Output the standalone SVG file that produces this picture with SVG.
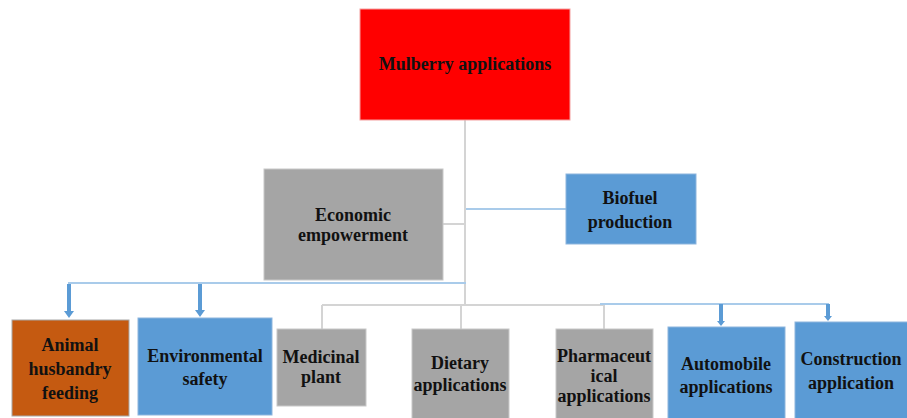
<svg xmlns="http://www.w3.org/2000/svg" width="907" height="418" viewBox="0 0 907 418">
<defs>
<style>
.t{font-family:"Liberation Serif","Times New Roman",serif;font-weight:bold;font-size:18px;fill:#111;text-anchor:middle}
.red{fill:#FF0000;stroke:#F4A0A0;stroke-width:1}
.gray{fill:#A5A5A5;stroke:#C8C8C8;stroke-width:1}
.blue{fill:#5B9BD5;stroke:#8DB5DD;stroke-width:1}
.orange{fill:#C55A11;stroke:#A8A8A8;stroke-width:1}
.gl{stroke:#D4D4D4;stroke-width:2;fill:none}
.bl{stroke:#A9CBEA;stroke-width:2;fill:none}
.ba{stroke:#5B9BD5;stroke-width:4;fill:none}
.ah{fill:#5B9BD5}
</style>
</defs>
<g id="connectors">
<line class="gl" x1="465" y1="120" x2="465" y2="305"/>
<line class="gl" x1="443" y1="224" x2="465" y2="224"/>
<line class="bl" x1="466" y1="209" x2="566" y2="209"/>
<line class="bl" x1="68" y1="283" x2="466" y2="283"/>
<line class="gl" x1="322" y1="305" x2="604" y2="305"/>
<line class="bl" x1="600" y1="304" x2="829" y2="304"/>
<line class="gl" x1="322" y1="305" x2="322" y2="329"/>
<line class="gl" x1="461" y1="305" x2="461" y2="329"/>
<line class="gl" x1="604" y1="305" x2="604" y2="329"/>
<line class="ba" x1="69" y1="284" x2="69" y2="312"/>
<polygon class="ah" points="64,311 74,311 69,318"/>
<line class="ba" x1="200" y1="284" x2="200" y2="311"/>
<polygon class="ah" points="195,310 205,310 200,317"/>
<line class="ba" x1="721" y1="304" x2="721" y2="322"/>
<polygon class="ah" points="717,321 725,321 721,326"/>
<line class="ba" x1="828" y1="304" x2="828" y2="317"/>
<polygon class="ah" points="824,316 832,316 828,321"/>
</g>
<g id="mulberry">
<rect class="red" x="360" y="9" width="210" height="111"/>
<text class="t" x="465" y="70">Mulberry applications</text>
</g>
<g id="economic">
<rect class="gray" x="264" y="169" width="179" height="111"/>
<text class="t" x="353" y="221">Economic</text>
<text class="t" x="353" y="241">empowerment</text>
</g>
<g id="biofuel">
<rect class="blue" x="566" y="174" width="130" height="70"/>
<text class="t" x="630" y="204">Biofuel</text>
<text class="t" x="630" y="228">production</text>
</g>
<g id="animal">
<rect class="orange" x="12" y="320" width="117" height="96"/>
<text class="t" x="70" y="351">Animal</text>
<text class="t" x="70" y="375">husbandry</text>
<text class="t" x="70" y="399">feeding</text>
</g>
<g id="environmental">
<rect class="blue" x="138" y="318" width="134" height="97"/>
<text class="t" x="205" y="362">Environmental</text>
<text class="t" x="205" y="385">safety</text>
</g>
<g id="medicinal">
<rect class="gray" x="277" y="329" width="89" height="77"/>
<text class="t" x="321" y="363">Medicinal</text>
<text class="t" x="321" y="383">plant</text>
</g>
<g id="dietary">
<rect class="gray" x="412" y="329" width="97" height="95"/>
<text class="t" x="460" y="369">Dietary</text>
<text class="t" x="460" y="391">applications</text>
</g>
<g id="pharmaceutical">
<rect class="gray" x="556" y="329" width="97" height="95"/>
<text class="t" x="604" y="362">Pharmaceut</text>
<text class="t" x="604" y="382">ical</text>
<text class="t" x="604" y="402">applications</text>
</g>
<g id="automobile">
<rect class="blue" x="668" y="327" width="117" height="97"/>
<text class="t" x="726" y="370">Automobile</text>
<text class="t" x="726" y="393">applications</text>
</g>
<g id="construction">
<rect class="blue" x="795" y="322" width="120" height="102"/>
<text class="t" x="851" y="365">Construction</text>
<text class="t" x="851" y="389">application</text>
</g>
</svg>
